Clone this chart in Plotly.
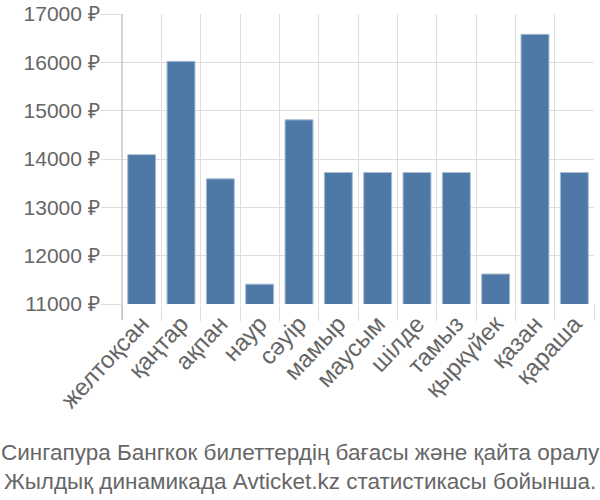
import plotly.graph_objects as go

months = ["желтоқсан", "қаңтар", "ақпан", "наур", "сәуір", "мамыр",
          "маусым", "шілде", "тамыз", "қыркүйек", "қазан", "қараша"]
prices = [14090, 16020, 13590, 11410, 14810, 13720,
          13720, 13720, 13720, 11620, 16580, 13720]
ytick_vals = [11000, 12000, 13000, 14000, 15000, 16000, 17000]
ytick_text = ["11000 ₽", "12000 ₽", "13000 ₽", "14000 ₽", "15000 ₽", "16000 ₽", "17000 ₽"]
title_lines = ["Сингапура Бангкок билеттердің бағасы және қайта оралу",
               "Жылдық динамикада Avticket.kz статистикасы бойынша."]

fig = go.Figure(go.Bar(
    x=months, y=prices,
    marker=dict(color="#4e79a7", line=dict(color="#a9bcd3", width=1)),
))

fig.update_layout(
    width=600, height=500,
    margin=dict(l=122, r=6, t=14, b=196),
    paper_bgcolor="white", plot_bgcolor="white",
    bargap=0.29,
    showlegend=False,
    font=dict(family="Liberation Sans, Arial", color="#666666"),
)
fig.update_xaxes(
    showgrid=True, gridcolor="#dddddd", gridwidth=1,
    tickson="boundaries", ticks="outside", ticklen=16, tickcolor="#dddddd",
    tickangle=-47, tickfont=dict(size=24, color="#666666"),
    showline=False, mirror=False, automargin=False,
)
fig.update_yaxes(
    range=[11000, 17000], tickvals=ytick_vals, ticktext=ytick_text,
    showgrid=True, gridcolor="#dddddd", gridwidth=1,
    ticks="outside", ticklen=20, tickcolor="#dddddd",
    ticklabelstandoff=-3,
    tickfont=dict(size=21, color="#666666"),
    zeroline=False, showline=False, automargin=False,
)
fig.add_shape(type="line", xref="paper", yref="paper",
              x0=0, x1=0, y0=1, y1=-16/290,
              line=dict(color="#aaaaaa", width=1))
fig.add_annotation(
    xref="paper", yref="paper", x=(300 - 122) / 472, y=0, showarrow=False,
    text="<br>".join(title_lines),
    font=dict(family="Liberation Sans", size=22.5, color="#666666"),
    xanchor="center", yanchor="top", yshift=-134, align="center",
)
fig.write_html("out.html")
